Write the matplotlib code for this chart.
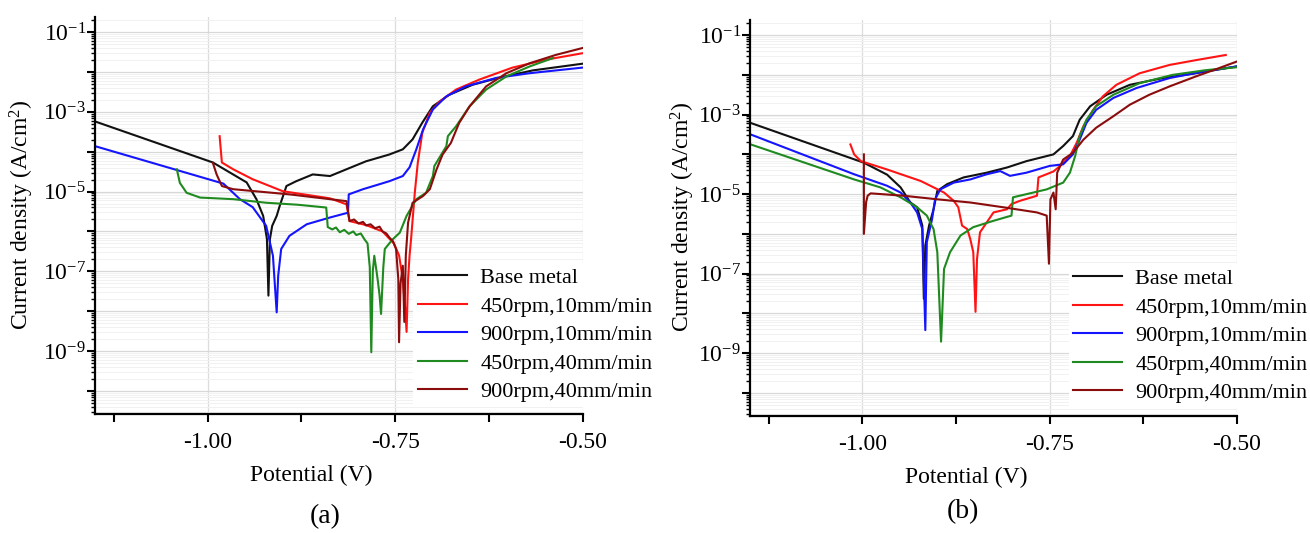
import numpy as np
import matplotlib
matplotlib.use("Agg")
import matplotlib.pyplot as plt
from matplotlib.ticker import FixedLocator, FuncFormatter, LogLocator, NullFormatter

plt.rcParams['font.family'] = ['Liberation Serif', 'DejaVu Serif']
plt.rcParams['mathtext.fontset'] = 'custom'
plt.rcParams['mathtext.rm'] = 'Liberation Serif'
plt.rcParams['mathtext.it'] = 'Liberation Serif:italic'

labels = ['Base metal', '450rpm,10mm/min', '900rpm,10mm/min',
          '450rpm,40mm/min', '900rpm,40mm/min']
colors = ['#111111', '#ff1414', '#1414ff', '#1f8a1f', '#8b0c0c']

# ---- panel (a): potential (V) and log10 current density ----
a_base_v = [-1.150, -0.993, -0.948, -0.935, -0.926, -0.921, -0.919, -0.917, -0.914, -0.908,
            -0.904, -0.895, -0.882, -0.860, -0.837, -0.815, -0.789, -0.758, -0.740, -0.727,
            -0.714, -0.700, -0.678, -0.647, -0.611, -0.567, -0.500]
a_base_logi = [-3.24, -4.27, -4.77, -5.19, -5.61, -6.19, -7.61, -6.19, -5.86, -5.61,
               -5.36, -4.86, -4.74, -4.57, -4.61, -4.44, -4.24, -4.07, -3.94, -3.69,
               -3.27, -2.86, -2.57, -2.32, -2.14, -1.96, -1.79]

a_r1_v = [-0.984, -0.981, -0.966, -0.940, -0.900, -0.837, -0.815, -0.811, -0.789, -0.767,
          -0.752, -0.745, -0.740, -0.737, -0.735, -0.733, -0.731, -0.729, -0.724, -0.720,
          -0.714, -0.704, -0.691, -0.669, -0.638, -0.594, -0.549, -0.501]
a_r1_logi = [-3.61, -4.27, -4.44, -4.69, -4.99, -5.17, -5.32, -5.74, -5.84, -6.00,
             -6.30, -6.60, -7.20, -7.90, -8.52, -7.20, -6.60, -6.19, -5.02, -4.27,
             -3.52, -3.02, -2.74, -2.44, -2.19, -1.89, -1.69, -1.53]

a_b1_v = [-1.150, -0.979, -0.957, -0.940, -0.922, -0.913, -0.908, -0.906, -0.902, -0.891,
          -0.868, -0.837, -0.813, -0.812, -0.793, -0.758, -0.740, -0.731, -0.722, -0.713,
          -0.700, -0.682, -0.656, -0.616, -0.571, -0.501]
a_b1_logi = [-3.86, -4.80, -5.19, -5.39, -5.86, -6.61, -8.03, -7.11, -6.44, -6.11,
             -5.82, -5.65, -5.53, -5.07, -4.94, -4.74, -4.61, -4.39, -3.94, -3.44,
             -2.94, -2.61, -2.36, -2.15, -2.03, -1.89]

a_g4_v = [-1.041, -1.037, -1.028, -1.010, -0.966, -0.922, -0.880, -0.842, -0.840, -0.834,
          -0.829, -0.824, -0.818, -0.812, -0.806, -0.802, -0.796, -0.791, -0.787, -0.784,
          -0.782, -0.780, -0.778, -0.775, -0.773, -0.771, -0.769, -0.766, -0.764, -0.758,
          -0.753, -0.744, -0.735, -0.722, -0.709, -0.700, -0.698, -0.682, -0.680, -0.669,
          -0.651, -0.629, -0.602, -0.571, -0.540]
a_g4_logi = [-4.44, -4.78, -5.03, -5.15, -5.19, -5.28, -5.33, -5.40, -5.89, -5.95,
             -5.90, -6.02, -5.96, -6.06, -6.00, -6.09, -6.05, -6.20, -6.30, -6.90,
             -9.03, -7.00, -6.61, -7.00, -7.28, -7.60, -8.07, -6.90, -6.44, -6.30,
             -6.19, -6.03, -5.61, -5.19, -5.03, -4.61, -4.36, -3.86, -3.61, -3.36,
             -2.86, -2.44, -2.11, -1.86, -1.65]

a_b4_v = [-0.993, -0.988, -0.981, -0.966, -0.891, -0.815, -0.811, -0.805, -0.799, -0.793,
          -0.789, -0.783, -0.777, -0.771, -0.767, -0.762, -0.758, -0.753, -0.749, -0.746,
          -0.745, -0.743, -0.740, -0.738, -0.736, -0.733, -0.727, -0.713, -0.704, -0.695,
          -0.687, -0.676, -0.665, -0.651, -0.629, -0.602, -0.571, -0.536, -0.501]
a_b4_logi = [-4.28, -4.57, -4.86, -4.94, -5.07, -5.24, -5.74, -5.70, -5.80, -5.76,
             -5.85, -5.82, -5.92, -5.88, -6.00, -6.05, -6.15, -6.25, -6.44, -7.20,
             -8.78, -7.30, -6.86, -8.27, -6.60, -5.78, -5.28, -5.11, -4.94, -4.44,
             -4.07, -3.78, -3.28, -2.86, -2.36, -2.03, -1.78, -1.57, -1.40]

# ---- panel (b) ----
b_base_v = [-1.149, -0.998, -0.967, -0.949, -0.936, -0.927, -0.920, -0.918, -0.916, -0.911,
            -0.905, -0.900, -0.887, -0.865, -0.834, -0.807, -0.781, -0.745, -0.732, -0.719,
            -0.710, -0.696, -0.674, -0.643, -0.599, -0.555, -0.501]
b_base_logi = [-3.21, -4.21, -4.51, -4.83, -5.21, -5.33, -5.79, -7.63, -6.29, -5.79,
               -5.38, -4.92, -4.75, -4.58, -4.46, -4.33, -4.17, -4.00, -3.79, -3.54,
               -3.13, -2.79, -2.50, -2.25, -2.08, -1.96, -1.79]

b_r1_v = [-1.016, -1.011, -1.002, -0.967, -0.922, -0.891, -0.878, -0.872, -0.867, -0.860,
          -0.856, -0.852, -0.849, -0.847, -0.843, -0.834, -0.825, -0.807, -0.801, -0.790,
          -0.767, -0.765, -0.745, -0.736, -0.723, -0.714, -0.705, -0.692, -0.679, -0.661,
          -0.630, -0.590, -0.555, -0.515]
b_r1_logi = [-3.75, -4.00, -4.17, -4.38, -4.67, -4.96, -5.17, -5.33, -5.79, -5.88,
             -6.13, -6.46, -7.96, -6.63, -5.96, -5.71, -5.46, -5.38, -5.25, -5.17,
             -5.04, -4.58, -4.43, -4.29, -4.04, -3.71, -3.29, -2.88, -2.54, -2.25,
             -1.96, -1.75, -1.63, -1.50]

b_b1_v = [-1.149, -1.011, -0.967, -0.949, -0.936, -0.927, -0.920, -0.916, -0.914, -0.907,
          -0.903, -0.896, -0.878, -0.856, -0.834, -0.816, -0.803, -0.781, -0.750, -0.732,
          -0.719, -0.710, -0.701, -0.688, -0.665, -0.634, -0.590, -0.546, -0.501]
b_b1_logi = [-3.50, -4.50, -4.79, -4.96, -5.21, -5.46, -5.88, -8.42, -6.21, -5.63,
             -5.13, -4.88, -4.71, -4.63, -4.50, -4.42, -4.54, -4.46, -4.29, -4.25,
             -4.00, -3.63, -3.21, -2.88, -2.58, -2.33, -2.08, -1.92, -1.79]

b_g4_v = [-1.149, -1.011, -0.976, -0.949, -0.927, -0.914, -0.905, -0.900, -0.895, -0.891,
          -0.883, -0.869, -0.852, -0.825, -0.801, -0.799, -0.781, -0.754, -0.732, -0.723,
          -0.716, -0.710, -0.701, -0.688, -0.665, -0.630, -0.586, -0.541, -0.501]
b_g4_logi = [-3.75, -4.63, -4.83, -5.08, -5.33, -5.54, -5.88, -6.46, -8.71, -6.88,
             -6.46, -6.04, -5.83, -5.67, -5.54, -5.08, -5.00, -4.88, -4.71, -4.46,
             -4.04, -3.54, -3.13, -2.79, -2.50, -2.21, -2.00, -1.88, -1.81]

b_b4_v = [-0.998, -0.998, -0.995, -0.993, -0.989, -0.945, -0.900, -0.856, -0.812, -0.767,
          -0.754, -0.751, -0.749, -0.745, -0.742, -0.740, -0.732, -0.719, -0.705, -0.688,
          -0.665, -0.643, -0.617, -0.590, -0.555, -0.524, -0.501]
b_b4_logi = [-4.00, -6.00, -5.20, -5.04, -4.98, -5.04, -5.13, -5.21, -5.33, -5.46,
             -5.54, -6.75, -5.13, -4.96, -5.38, -4.46, -4.13, -3.96, -3.63, -3.33,
             -3.04, -2.75, -2.50, -2.29, -2.04, -1.83, -1.67]

panel_a = [(a_base_v, a_base_logi), (a_r1_v, a_r1_logi), (a_b1_v, a_b1_logi),
           (a_g4_v, a_g4_logi), (a_b4_v, a_b4_logi)]
panel_b = [(b_base_v, b_base_logi), (b_r1_v, b_r1_logi), (b_b1_v, b_b1_logi),
           (b_g4_v, b_g4_logi), (b_b4_v, b_b4_logi)]

W, H = 1310, 533
fig = plt.figure(figsize=(W / 100, H / 100), dpi=100)


def px_box(x0, y0, x1, y1):
    return [x0 / W, 1 - y1 / H, (x1 - x0) / W, (y1 - y0) / H]


def sup_label(val, pos):
    e = int(round(np.log10(val)))
    if e % 2 != 0:
        return '10$^{\\mathrm{-%d}}$' % (-e)
    return ''


def style_axes(ax):
    ax.set_yscale('log')
    ax.set_xlim(-1.15, -0.50)
    ax.set_ylim(10 ** -10.58, 10 ** -0.62)
    for s in ['top', 'right']:
        ax.spines[s].set_visible(False)
    for s in ['left', 'bottom']:
        ax.spines[s].set_linewidth(1.6)
    ax.xaxis.set_major_locator(FixedLocator([-1.0, -0.75, -0.5]))
    ax.xaxis.set_minor_locator(FixedLocator([-1.125, -0.875, -0.625]))
    ax.set_xticklabels(['-1.00', '-0.75', '-0.50'])
    ax.yaxis.set_major_locator(LogLocator(base=10, numticks=20))
    ax.yaxis.set_major_formatter(FuncFormatter(sup_label))
    ax.yaxis.set_minor_locator(LogLocator(base=10, subs=np.arange(2, 10), numticks=20))
    ax.yaxis.set_minor_formatter(NullFormatter())
    ax.tick_params(axis='both', which='major', direction='out', length=6, width=1.5,
                   labelsize=17)
    ax.tick_params(axis='x', which='minor', direction='out', length=6, width=1.5)
    ax.tick_params(axis='y', which='minor', direction='out', length=3, width=1.0)
    ax.tick_params(axis='x', pad=7)
    ax.tick_params(axis='y', pad=0.5)
    ax.grid(True, which='major', axis='y', color='#d8d8d8', linewidth=0.9)
    ax.grid(True, which='minor', axis='y', color='#f1f1f1', linewidth=0.7)
    ax.grid(True, which='major', axis='x', color='#dcdcdc', linewidth=0.9)
    ax.set_axisbelow(True)


panels = [(panel_a, px_box(95, 17, 583, 414), (413.5, 263), (22, 215), (311, 475), '(a)', (325, 517)),
          (panel_b, px_box(750, 20, 1237, 416), (1068.5, 264), (683, 217), (966, 477), '(b)', (963, 512))]

for data, box, leg_xy, ylab_xy, xlab_xy, tag, tag_xy in panels:
    ax = fig.add_axes(box)
    style_axes(ax)
    for (v, logi), lab, col in zip(data, labels, colors):
        ax.plot(v, 10 ** np.array(logi), color=col, linewidth=1.5, label=lab)
    leg = ax.legend(loc='upper left', bbox_to_anchor=(leg_xy[0] / W, 1 - leg_xy[1] / H),
                    bbox_transform=fig.transFigure, fontsize=16, frameon=True,
                    facecolor='white', edgecolor='none', framealpha=1, fancybox=False,
                    borderpad=0.2, handlelength=2.2, handletextpad=0.6, labelspacing=0.36,
                    borderaxespad=0)
    leg.set_zorder(5)
    fig.text(ylab_xy[0] / W, 1 - ylab_xy[1] / H, 'Current density (A/cm$^2$)',
             rotation=90, ha='center', va='center', fontsize=17)
    fig.text(xlab_xy[0] / W, 1 - xlab_xy[1] / H, 'Potential (V)',
             ha='center', va='center', fontsize=17)
    fig.text(tag_xy[0] / W, 1 - tag_xy[1] / H, tag, ha='center', va='center', fontsize=20)

fig.savefig('out.png', dpi=100)
